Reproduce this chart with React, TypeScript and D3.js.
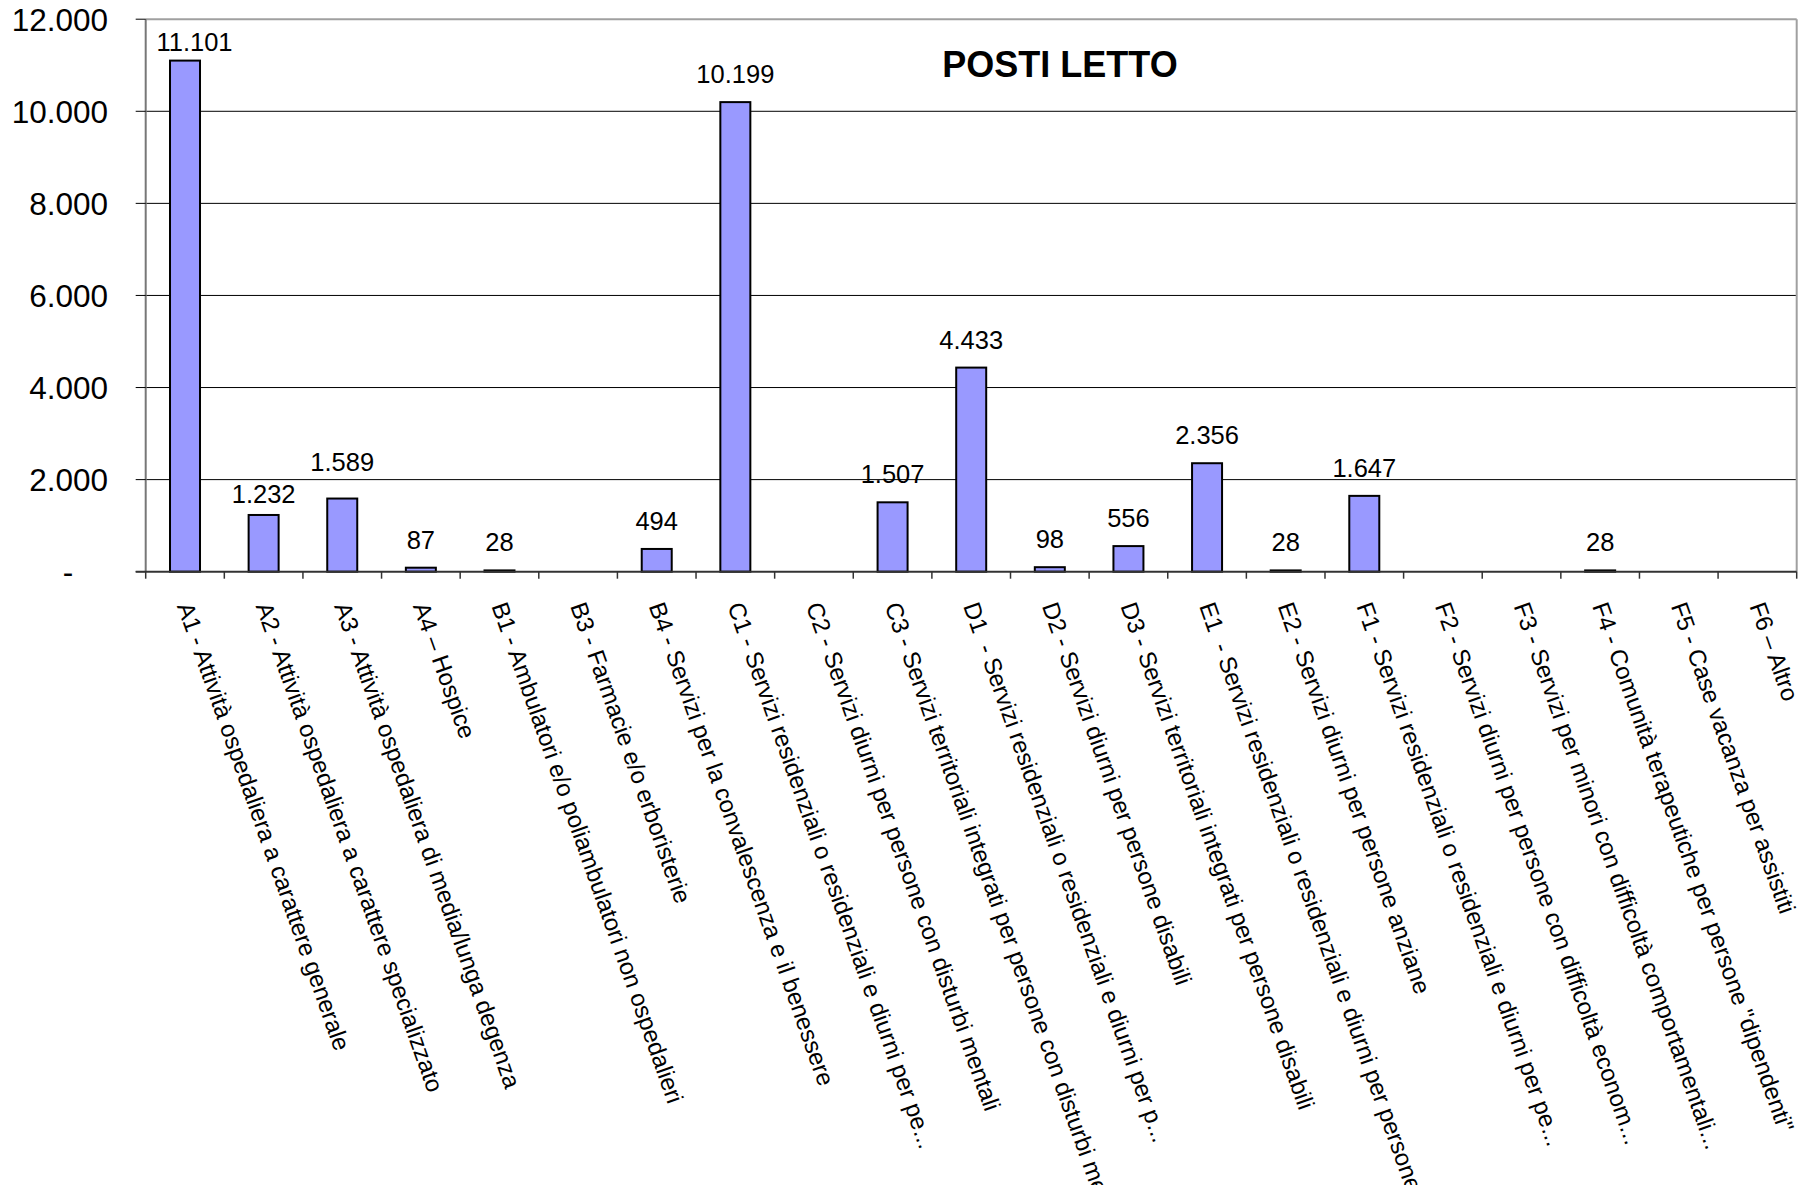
import React from "react";
import * as d3 from "d3";

const categories = [
  "A1 - Attività ospedaliera a carattere generale",
  "A2 - Attività ospedaliera a carattere specializzato",
  "A3 - Attività ospedaliera di media/lunga degenza",
  "A4 – Hospice",
  "B1 - Ambulatori e/o poliambulatori non ospedalieri",
  "B3 - Farmacie e/o erboristerie",
  "B4 - Servizi per la convalescenza e il benessere",
  "C1 - Servizi residenziali o residenziali e diurni per pe...",
  "C2 - Servizi diurni per persone con disturbi mentali",
  "C3 - Servizi territoriali integrati per persone con disturbi mentali",
  "D1  - Servizi residenziali o residenziali e diurni per p...",
  "D2 - Servizi diurni per persone disabili",
  "D3 - Servizi territoriali integrati per persone disabili",
  "E1  - Servizi residenziali o residenziali e diurni per persone anziane",
  "E2 - Servizi diurni per persone anziane",
  "F1 - Servizi residenziali o residenziali e diurni per pe...",
  "F2 - Servizi diurni per persone con difficoltà econom...",
  "F3 - Servizi per minori con difficoltà comportamentali...",
  "F4 - Comunità terapeutiche per persone \"dipendenti\"",
  "F5 - Case vacanza per assistiti",
  "F6 – Altro",
];

const postiLetto: (number | null)[] = [
  11101, 1232, 1589, 87, 28, null, 494, 10199, null, 1507, 4433, 98, 556,
  2356, 28, 1647, null, null, 28, null, null,
];

const yTicks = [0, 2000, 4000, 6000, 8000, 10000, 12000];
const yTickLabels = ["-", "2.000", "4.000", "6.000", "8.000", "10.000", "12.000"];
const title = "POSTI LETTO";

const W = 1813;
const H = 1185;
const M = { left: 145.7, right: 1796.7, top: 19.2, bottom: 571.7 };
const FONT = "'Liberation Sans', Arial, sans-serif";

// label placement tweaks (vertical gap above bar, horizontal shift)
const labelGap = (i: number) => (i === 0 ? 9.5 : i === 1 ? 11.5 : i === 2 ? 28 : 19);
const labelShift = (i: number) => (i === 0 ? 9.5 : 0);

const fmt = (v: number) => d3.format(",")(v).replace(/,/g, ".");

export default function App() {
  const x = d3
    .scaleBand<number>()
    .domain(categories.map((_, i) => i))
    .range([M.left, M.right])
    .paddingInner(0)
    .paddingOuter(0);
  const y = d3.scaleLinear().domain([0, 12000]).range([M.bottom, M.top]);
  const bw = 30;
  const step = x.step();

  return (
    <svg
      width={W}
      height={H}
      style={{ position: "absolute", left: 0, top: 0, background: "#fff" }}
      fontFamily={FONT}
    >
      <rect x={0} y={0} width={W} height={H} fill="#fff" />
      {/* gridlines */}
      {yTicks
        .filter((t) => t > 0 && t < 12000)
        .map((t) => (
          <line key={t} x1={M.left} x2={M.right} y1={y(t)} y2={y(t)} stroke="#000" strokeWidth={1} />
        ))}
      {/* plot border top/right */}
      <line x1={M.left} x2={M.right} y1={y(12000)} y2={y(12000)} stroke="#a0a0a0" strokeWidth={2} />
      <line x1={M.right} x2={M.right} y1={M.top} y2={M.bottom} stroke="#a0a0a0" strokeWidth={2} />

      {/* bars */}
      {postiLetto.map((v, i) =>
        v == null ? null : (
          <rect
            key={i}
            x={(x(i) as number) + step / 2 - bw / 2}
            y={y(v)}
            width={bw}
            height={M.bottom - y(v)}
            fill="#9999ff"
            stroke="#000"
            strokeWidth={2}
          />
        )
      )}

      {/* y axis */}
      <line x1={M.left} x2={M.left} y1={M.top} y2={M.bottom} stroke="#777" strokeWidth={2} />
      {yTicks.map((t, i) => (
        <g key={t}>
          <line x1={M.left - 10} x2={M.left} y1={y(t)} y2={y(t)} stroke="#000" strokeWidth={1} />
          <text
            x={t === 0 ? 68 : 108}
            y={y(t)}
            dy="0.36em"
            textAnchor={t === 0 ? "middle" : "end"}
            fontSize={31.5}
            fill="#000"
          >
            {yTickLabels[i]}
          </text>
        </g>
      ))}

      {/* x axis */}
      <line x1={M.left - 10} x2={M.right} y1={M.bottom} y2={M.bottom} stroke="#333" strokeWidth={2} />
      {categories.map((_, i) => (
        <line
          key={i}
          x1={x(i) as number}
          x2={x(i) as number}
          y1={M.bottom}
          y2={M.bottom + 7}
          stroke="#333"
          strokeWidth={1.5}
        />
      ))}
      <line x1={M.right} x2={M.right} y1={M.bottom} y2={M.bottom + 7} stroke="#333" strokeWidth={1.5} />

      {/* data labels */}
      {postiLetto.map((v, i) =>
        v == null ? null : (
          <text
            key={i}
            x={(x(i) as number) + step / 2 + labelShift(i)}
            y={y(v) - labelGap(i)}
            textAnchor="middle"
            fontSize={25.5}
            fill="#000"
          >
            {fmt(v)}
          </text>
        )
      )}

      {/* category labels */}
      {categories.map((c, i) => (
        <text
          key={c}
          transform={`translate(${(x(i) as number) + step / 2},603) rotate(70.5)`}
          dy="0.36em"
          textAnchor="start"
          fontSize={24}
          fill="#000"
          style={{ whiteSpace: "pre" }}
        >
          {c}
        </text>
      ))}

      {/* title */}
      <text x={1060} y={77.3} textAnchor="middle" fontSize={36} fontWeight="bold" fill="#000">
        {title}
      </text>
    </svg>
  );
}
